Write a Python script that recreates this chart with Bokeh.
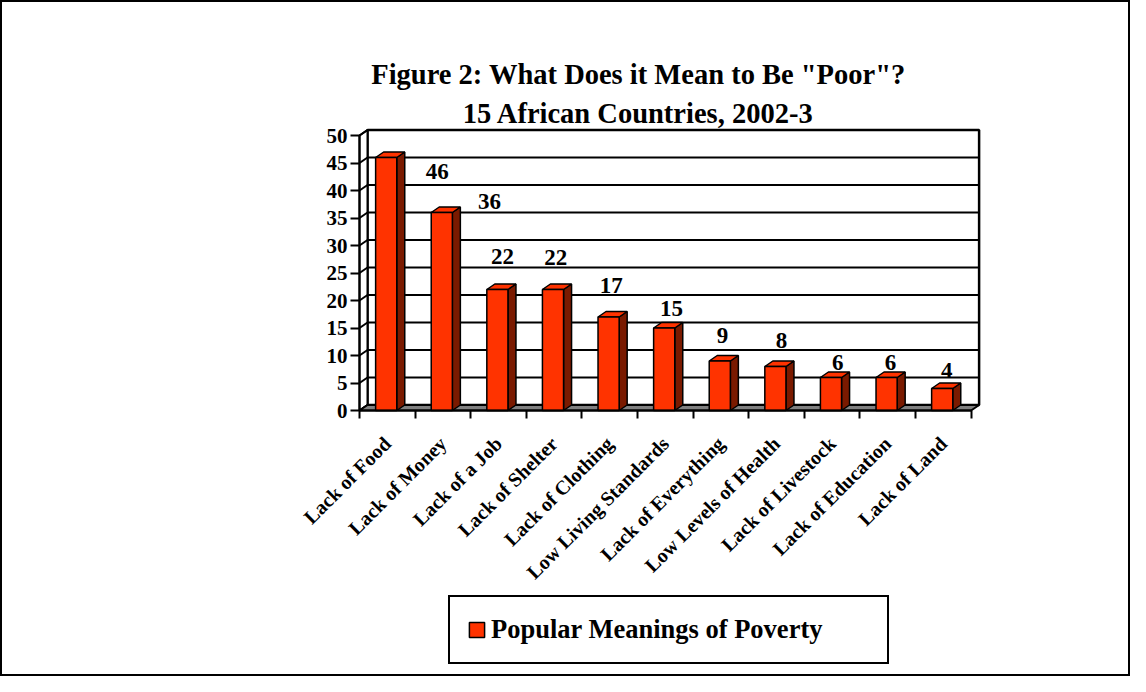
import math
from bokeh.plotting import figure
from bokeh.models import Range1d, FixedTicker, Legend, LegendItem, Label
from bokeh.embed import file_html
from bokeh.resources import INLINE
from bokeh.core.properties import value

# ---------------- data ----------------
categories = ["Lack of Food", "Lack of Money", "Lack of a Job", "Lack of Shelter",
              "Lack of Clothing", "Low Living Standards", "Lack of Everything",
              "Low Levels of Health", "Lack of Livestock", "Lack of Education",
              "Lack of Land"]
values = [46, 36, 22, 22, 17, 15, 9, 8, 6, 6, 4]
y_ticks = [0, 5, 10, 15, 20, 25, 30, 35, 40, 45, 50]
series_name = "Popular Meanings of Poverty"
title_lines = ['Figure 2: What Does it Mean to Be "Poor"?', "15 African Countries, 2002-3"]

# where the value labels sit relative to their bars (as in the picture)
label_dx = [0.90, 0.84, 0.07, 0.03, 0.03, 0.11, 0.03, 0.09, 0.10, 0.05, 0.06]
label_dy = [-2.5, 2.0, 6.0, 5.8, 5.7, 3.5, 4.6, 4.7, 2.7, 2.7, 3.3]

# ---------------- layout constants ----------------
N = len(categories)
YMAX = 50
DX, DY = 0.144, 1.0          # 3-D depth in data units
BAR_OFF, BAR_W = 0.29, 0.38
PX_X, PX_Y = 55.6, 5.5       # pixels per data unit
ORIGIN_X, ORIGIN_Y = 357, 408  # pixel position of (0, 0)
W, H = 1130, 676
LB, TB = 70, 40              # left / top borders (axis panels)
FONT = "Liberation Serif"
FRONT = "#FF3300"
SIDE = "#7A1A00"
FLOOR = "#808080"

x_start = -(ORIGIN_X - LB) / PX_X
x_end = (W - ORIGIN_X) / PX_X
y_start = -(H - ORIGIN_Y) / PX_Y
y_end = (ORIGIN_Y - TB) / PX_Y

p = figure(width=W, height=H,
           x_range=Range1d(x_start, x_end), y_range=Range1d(y_start, y_end),
           min_border_left=LB, min_border_right=0,
           min_border_top=TB, min_border_bottom=0,
           x_axis_location="above",
           output_backend="svg", toolbar_location=None)
p.title.visible = False
p.title.text_font_size = "1px"
p.title.standoff = 0
p.outline_line_color = None
p.grid.visible = False
p.background_fill_color = "white"
p.border_fill_color = "white"
p.styles = {"border": "2px solid black"}

# back wall
p.quad(left=[DX], right=[N + DX], bottom=[DY], top=[YMAX + DY],
       fill_color="white", line_color="black", line_width=2.5)
grid_vals = [v for v in y_ticks if 0 < v < YMAX]
p.segment(x0=[DX] * len(grid_vals), y0=[v + DY for v in grid_vals],
          x1=[N + DX] * len(grid_vals), y1=[v + DY for v in grid_vals],
          line_color="black", line_width=2)
# left wall
p.patch([0, DX, DX, 0], [0, DY, YMAX + DY, YMAX], fill_color="white",
        line_color="black", line_width=2)
p.segment(x0=[0] * len(y_ticks), y0=y_ticks, x1=[DX] * len(y_ticks),
          y1=[v + DY for v in y_ticks], line_color="black", line_width=2)
# floor
p.patch([0, N, N + DX, DX], [0, 0, DY, DY], fill_color=FLOOR,
        line_color="black", line_width=2)

# bars
x0s = [i + BAR_OFF for i in range(N)]
x1s = [x + BAR_W for x in x0s]
p.patches(xs=[[a, a + DX, a + DX, a] for a in x1s],
          ys=[[0, DY, v + DY, v] for v in values],
          fill_color=SIDE, line_color="black", line_width=1.5)
p.patches(xs=[[a, b, b + DX, a + DX] for a, b in zip(x0s, x1s)],
          ys=[[v, v, v + DY, v + DY] for v in values],
          fill_color=FRONT, line_color="black", line_width=1.5)
front = p.quad(left=x0s, right=x1s, bottom=[0] * N, top=values,
               fill_color=FRONT, line_color="black", line_width=1.5)

# value labels
p.text(x=[i + 0.5 + d for i, d in enumerate(label_dx)],
       y=[v + d for v, d in zip(values, label_dy)],
       text=[str(v) for v in values],
       text_font=value(FONT), text_font_style="bold", text_font_size="23px",
       text_align="center", text_baseline="middle", text_color="black")

# category labels (rotated, ending under each category)
CAT_LABEL_Y = -5.4
p.text(x=[i + 0.5 for i in range(N)], y=[CAT_LABEL_Y] * N, text=categories,
       angle=math.pi / 4, text_font=value(FONT), text_font_style="bold",
       text_font_size="20px", text_align="right", text_baseline="middle",
       text_color="black")

# y axis on the front-left edge
ya = p.yaxis[0]
ya.fixed_location = 0
ya.ticker = FixedTicker(ticks=y_ticks)
ya.bounds = (0, YMAX)
ya.axis_line_width = 2
ya.major_tick_line_width = 2
ya.major_tick_out = 9
ya.major_tick_in = 0
ya.minor_tick_out = 0
ya.minor_tick_in = 0
ya.major_label_standoff = 3
ya.major_label_text_font = FONT
ya.major_label_text_font_style = "bold"
ya.major_label_text_font_size = "21px"
ya.major_label_text_color = "black"

# category axis along the front floor edge (ticks between categories)
boundaries = list(range(N + 1))
xa = p.xaxis[0]
xa.fixed_location = 0
xa.ticker = FixedTicker(ticks=boundaries)
xa.major_label_overrides = {b: "" for b in boundaries}
xa.bounds = (0, N)
xa.axis_line_width = 2
xa.major_tick_line_width = 2
xa.major_tick_out = 0
xa.major_tick_in = 8
xa.minor_tick_out = 0
xa.minor_tick_in = 0
xa.major_label_standoff = 0
xa.major_label_text_font_size = "1px"

# title lines
TITLE_X = (636 - ORIGIN_X) / PX_X
for txt, base_px in zip(title_lines, [72, 111]):
    p.add_layout(Label(x=TITLE_X, y=(ORIGIN_Y - base_px) / PX_Y, text=txt,
                       text_align="center", text_baseline="alphabetic",
                       text_font=FONT, text_font_style="bold",
                       text_font_size="28.5px", text_color="black"))

# legend
legend = Legend(items=[LegendItem(label=series_name, renderers=[front])],
                location=(446 - LB, H - 662), padding=17, margin=0, spacing=0,
                glyph_width=19, glyph_height=19, label_standoff=5,
                label_width=379, label_text_font=FONT,
                label_text_font_style="bold", label_text_font_size="26.5px",
                label_text_color="black", border_line_color="black",
                border_line_alpha=1.0, border_line_width=2,
                background_fill_color="white", background_fill_alpha=1.0)
p.add_layout(legend, "center")

open("out.html", "w").write(file_html(p, INLINE))
